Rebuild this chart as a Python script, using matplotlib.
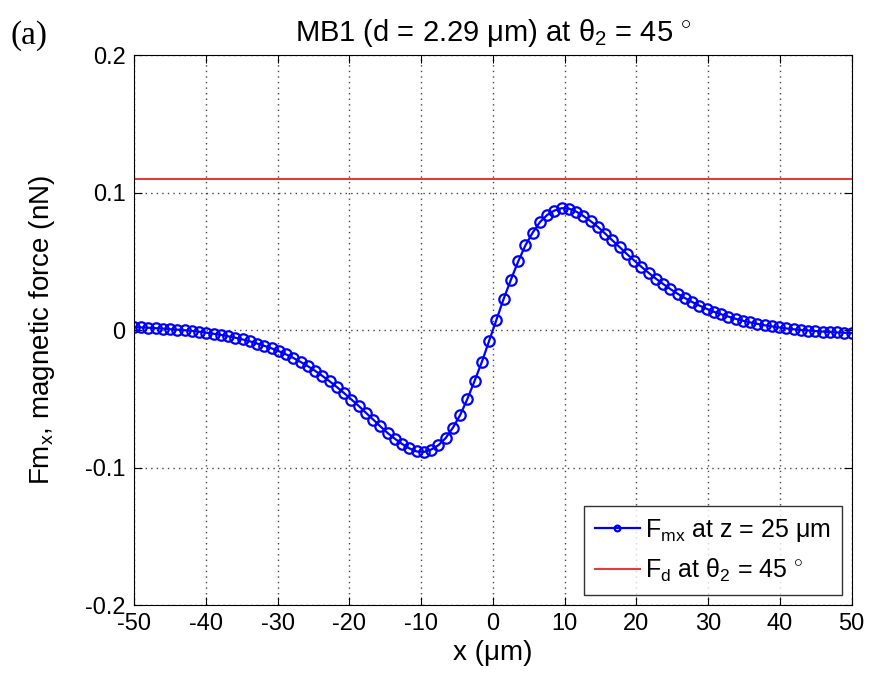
"""
Magnetic force on MB1 bead along x, compared with the drag force.
"""

import numpy as np
import matplotlib
matplotlib.use("Agg")
import matplotlib.pyplot as plt

plt.rcParams['font.family'] = ['Liberation Sans', 'DejaVu Sans']
plt.rcParams['mathtext.fontset'] = 'custom'
plt.rcParams['mathtext.rm'] = 'Liberation Sans'
plt.rcParams['mathtext.it'] = 'Liberation Sans'

# x positions of the samples (100 evenly spaced points, -50..50 um)
x_um = np.linspace(-50, 50, 100)

# Fmx (nN)
fmx_neg = [0.0022, 0.0020, 0.0017, 0.0014, 0.0011, 0.0007, 0.0003, -0.0001, -0.0006, -0.0012,
           -0.0019, -0.0027, -0.0035, -0.0045, -0.0056, -0.0068, -0.0082, -0.0098, -0.0115, -0.0133,
           -0.0154, -0.0177, -0.0203, -0.0232, -0.0263, -0.0297, -0.0334, -0.0373, -0.0415, -0.0459,
           -0.0505, -0.0552, -0.0602, -0.0651, -0.0701, -0.0749, -0.0791, -0.0829, -0.0861, -0.0883,
           -0.0886, -0.0869, -0.0837, -0.0785, -0.0709, -0.0617, -0.0499, -0.0367, -0.0229, -0.0076]
fmx_pos = [0.0076, 0.0229, 0.0368, 0.0500, 0.0618, 0.0710, 0.0786, 0.0838, 0.0870, 0.0887,
           0.0884, 0.0862, 0.0830, 0.0792, 0.0750, 0.0702, 0.0652, 0.0603, 0.0553, 0.0506,
           0.0460, 0.0416, 0.0374, 0.0335, 0.0298, 0.0264, 0.0233, 0.0204, 0.0178, 0.0155,
           0.0133, 0.0115, 0.0098, 0.0082, 0.0068, 0.0056, 0.0045, 0.0035, 0.0027, 0.0019,
           0.0012, 0.0006, 0.0001, -0.0003, -0.0007, -0.0011, -0.0014, -0.0017, -0.0019, -0.0022]
fmx = fmx_neg + fmx_pos

# drag force at theta2 = 45 deg (nN)
fd = 0.11

x_ticks = [-50, -40, -30, -20, -10, 0, 10, 20, 30, 40, 50]
y_ticks = [-0.2, -0.1, 0, 0.1, 0.2]
y_ticklabels = ['-0.2', '-0.1', '0', '0.1', '0.2']

fig = plt.figure(figsize=(8.7, 6.73), dpi=100)
ax = fig.add_axes([0.154, 0.101, 0.825, 0.817])

ax.plot(x_um, fmx, color='#0000ff', lw=1.6, marker='o', ms=7.5, mfc='none',
        mew=1.6, label=r'F$_{mx}$ at z = 25 μm')
ax.axhline(fd, color='#e33b3b', lw=1.5, label=r'F$_{d}$ at θ$_{2}$ = 45 $^{\circ}$')

ax.set_xlim(-50, 50)
ax.set_ylim(-0.2, 0.2)
ax.set_xticks(x_ticks)
ax.set_xticklabels([str(t) for t in x_ticks])
ax.set_yticks(y_ticks)
ax.set_yticklabels(y_ticklabels)
ax.tick_params(direction='in', top=True, right=True, labelsize=17, length=6, pad=6)
ax.grid(True, linestyle=(0, (1, 3)), color='#444444', lw=1.0)

ax.set_xlabel('x (μm)', fontsize=20, labelpad=3)
ax.set_ylabel(r'Fm$_{x}$, magnetic force (nN)', fontsize=20, labelpad=20)
ax.set_title(r'MB1 (d = 2.29 μm) at θ$_{2}$ = 45 $^{\circ}$', fontsize=21, pad=10)

leg = ax.legend(loc='lower right', fontsize=18, fancybox=False, edgecolor='black',
                handlelength=1.8, handletextpad=0.2, borderaxespad=0.4,
                borderpad=0.45, labelspacing=0.5, markerscale=0.55)
leg.get_frame().set_linewidth(1.0)

fig.text(0.012, 0.935, '(a)', fontsize=24, family='Liberation Serif')

fig.savefig('out.png', dpi=100)
